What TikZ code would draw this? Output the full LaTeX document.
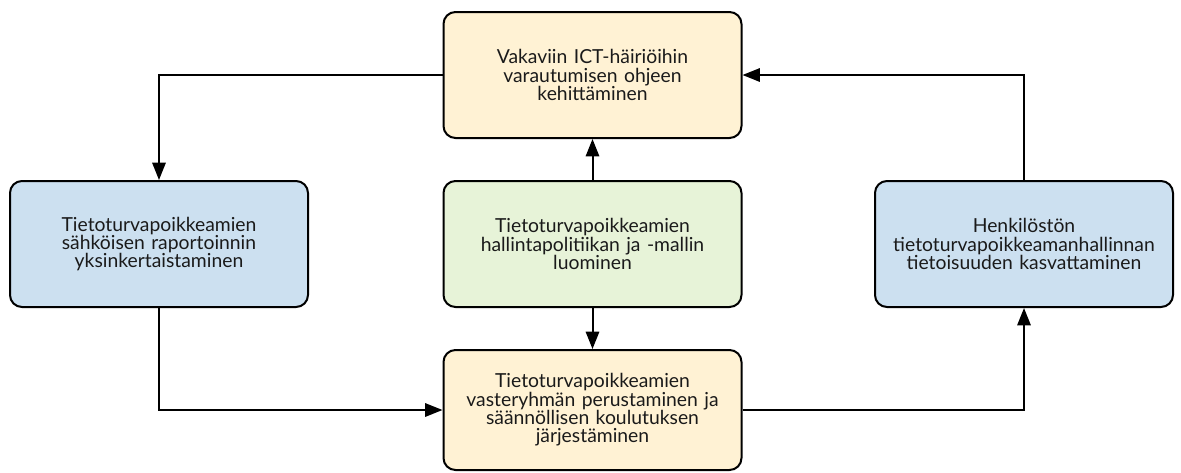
\documentclass[tikz,border=0pt]{standalone}
\usepackage{fontspec}
\setmainfont{Lato}
\usetikzlibrary{arrows.meta}
\definecolor{beige}{RGB}{255,242,212}
\definecolor{paleblue}{RGB}{204,224,240}
\definecolor{palegreen}{RGB}{231,243,216}
\definecolor{ink}{RGB}{26,26,26}
\tikzset{
  stepbox/.style={draw=black, line width=1.5pt, rounded corners=9pt,
    minimum width=223.5pt, minimum height=94.5pt, text width=215pt,
    align=center, font=\fontsize{14.5}{13.8}\selectfont, text=ink},
  flow/.style={line width=1.5pt, -{Triangle[length=13pt,width=10pt]}},
}
\begin{document}
\begin{tikzpicture}[x=0.75pt, y=-0.75pt]
  \useasboundingbox (0,0) rectangle (1181,472);
  \node[stepbox, fill=beige] (plan) at (592.5,75)
    {Vakaviin ICT-häiriöihin\\varautumisen ohjeen\\kehittäminen};
  \node[stepbox, fill=paleblue] (report) at (159,244)
    {Tietoturvapoikkeamien\\sähköisen raportoinnin\\yksinkertaistaminen};
  \node[stepbox, fill=palegreen] (policy) at (592.5,244)
    {Tietoturvapoikkeamien\\hallintapolitiikan ja -mallin\\luominen};
  \node[stepbox, fill=paleblue] (aware) at (1024,244)
    {Henkilöstön\\tietoturvapoikkeamanhallinnan\\tietoisuuden kasvattaminen};
  \node[stepbox, fill=beige, minimum height=90pt] (team) at (592.5,410)
    {Tietoturvapoikkeamien\\vasteryhmän perustaminen ja\\säännöllisen koulutuksen\\järjestäminen};

  \draw[flow] (policy) -- (plan);
  \draw[flow] (policy) -- (team);
  \draw[flow] (plan.west) -| (report.north);
  \draw[flow] (report.south) |- (team.west);
  \draw[flow] (team.east) -| (aware.south);
  \draw[flow] (aware.north) |- (plan.east);
\end{tikzpicture}
\end{document}
